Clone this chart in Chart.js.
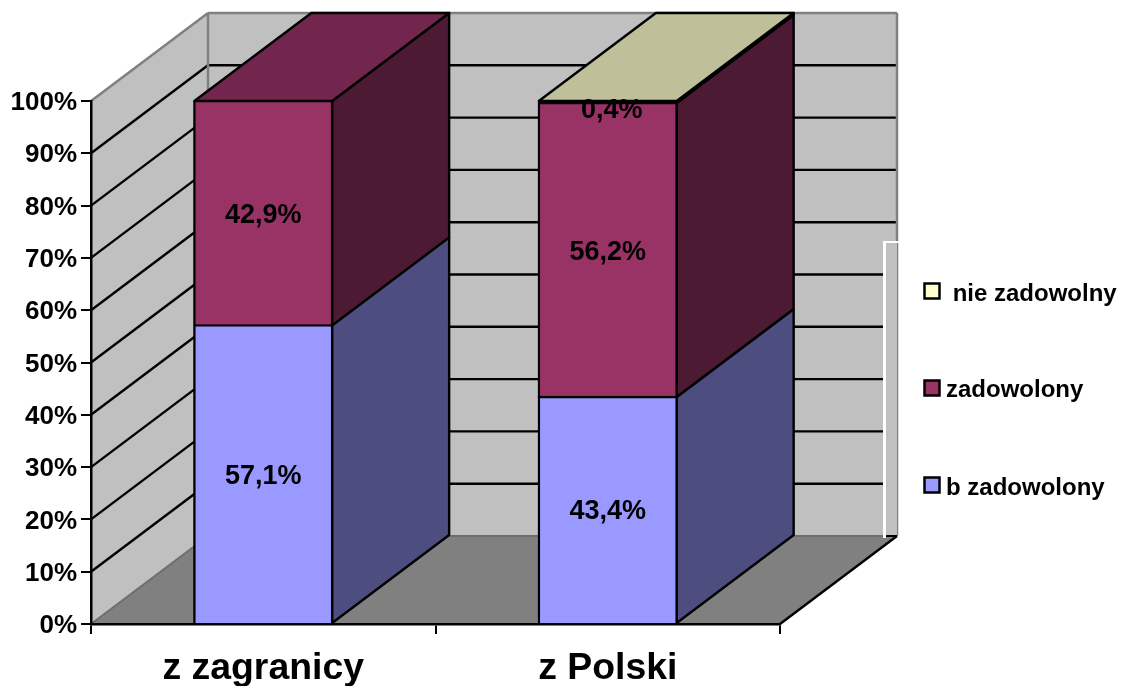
<!DOCTYPE html>
<html>
<head>
<meta charset="utf-8">
<script src="https://cdn.jsdelivr.net/npm/chart.js@4"></script>
<style>
  html, body { margin: 0; background: #fff; }
  #wrap { width: 1125px; height: 686px; }
</style>
</head>
<body>
<div id="wrap"><canvas id="chart" width="1125" height="686"></canvas></div>
<script>
const categories = ['z zagranicy', 'z Polski'];
const seriesNames = ['b zadowolony', 'zadowolony', ' nie zadowolny'];
const bZadowolony = [57.1, 43.4];
const zadowolony = [42.9, 56.2];
const nieZadowolny = [null, 0.4];
const valueLabels = [['57,1%', '43,4%'], ['42,9%', '56,2%'], [null, '0,4%']];

const FONT = '"Liberation Sans", Arial, sans-serif';
// front, top and side shade of each series
const colors = [
  { front: '#9999FF', top: '#7373BF', side: '#4D4D80' },
  { front: '#993366', top: '#73264D', side: '#4D1A33' },
  { front: '#FFFFCC', top: '#BFBF99', side: '#808066' }
];
const DX = 117, DY = 88; // depth of the fake 3d box

function poly(ctx, pts, fill, stroke, lw) {
  ctx.beginPath();
  pts.forEach((p, i) => i ? ctx.lineTo(p[0], p[1]) : ctx.moveTo(p[0], p[1]));
  ctx.closePath();
  if (fill) { ctx.fillStyle = fill; ctx.fill(); }
  if (stroke) { ctx.strokeStyle = stroke; ctx.lineWidth = lw; ctx.stroke(); }
}

function seg(ctx, x1, y1, x2, y2, color, lw) {
  ctx.beginPath();
  ctx.moveTo(x1, y1);
  ctx.lineTo(x2, y2);
  ctx.strokeStyle = color;
  ctx.lineWidth = lw;
  ctx.stroke();
}

const box3d = {
  id: 'box3d',
  // walls, floor and gridlines go under the axes
  beforeDraw(chart) {
    const { ctx, chartArea: a, scales } = chart;
    const y = scales.y;
    ctx.save();
    ctx.lineJoin = 'round';
    poly(ctx, [[a.left, a.top], [a.left + DX, a.top - DY], [a.left + DX, a.bottom - DY], [a.left, a.bottom]], '#C0C0C0', null);
    poly(ctx, [[a.left + DX, a.top - DY], [a.right + DX, a.top - DY], [a.right + DX, a.bottom - DY], [a.left + DX, a.bottom - DY]], '#C0C0C0', null);
    poly(ctx, [[a.left, a.bottom], [a.left + DX, a.bottom - DY], [a.right + DX, a.bottom - DY], [a.right, a.bottom]], '#808080', null);

    y.ticks.forEach(t => {
      const py = y.getPixelForValue(t.value);
      if (t.value === 0 || t.value === 100) return;
      seg(ctx, a.left, py, a.left + DX, py - DY, '#000', 2.4);
      seg(ctx, a.left + DX, py - DY, a.right + DX, py - DY, '#000', 2.4);
    });

    // grey wall edges
    seg(ctx, a.left, a.top, a.left + DX, a.top - DY, '#808080', 2.5);
    seg(ctx, a.left + DX, a.top - DY, a.right + DX, a.top - DY, '#808080', 2.5);
    seg(ctx, a.left + DX, a.top - DY, a.left + DX, a.bottom - DY, '#808080', 2.5);
    seg(ctx, a.right + DX, a.top - DY, a.right + DX, a.bottom - DY, '#808080', 2.5);
    seg(ctx, a.left, a.bottom, a.left + DX, a.bottom - DY, '#6E6E6E', 2);
    seg(ctx, a.left + DX, a.bottom - DY, a.right + DX, a.bottom - DY, '#6E6E6E', 2);
    seg(ctx, a.right, a.bottom, a.right + DX, a.bottom - DY, '#000', 2.4);

    // legend frame sits on top of the wall
    ctx.fillStyle = '#C0C0C0';
    ctx.fillRect(884, 242, a.right + DX - 884, a.bottom - DY - 242);
    ctx.fillStyle = '#fff';
    ctx.fillRect(883, 241, 3, a.bottom - DY - 239);
    ctx.fillRect(883, 241, a.right + DX - 883 + 2, 2);
    seg(ctx, 886, a.bottom - DY, a.right + DX, a.bottom - DY, '#000', 2);
    ctx.restore();
  },
  // side and top faces of the columns
  beforeDatasetsDraw(chart) {
    const { ctx } = chart;
    ctx.save();
    ctx.lineJoin = 'round';
    chart.data.datasets.forEach((ds, i) => {
      chart.getDatasetMeta(i).data.forEach((bar, j) => {
        if (ds.data[j] === null) return;
        const r = bar.x + bar.width / 2, l = bar.x - bar.width / 2;
        poly(ctx, [[r, bar.y], [r + DX, bar.y - DY], [r + DX, bar.base - DY], [r, bar.base]], colors[i].side, '#000', 2.4);
        const isTop = chart.data.datasets.slice(i + 1).every(d => d.data[j] === null);
        if (isTop) poly(ctx, [[l, bar.y], [l + DX, bar.y - DY], [r + DX, bar.y - DY], [r, bar.y]], colors[i].top, '#000', 2.4);
      });
    });
    ctx.restore();
  },
  afterDatasetsDraw(chart) {
    const { ctx } = chart;
    ctx.save();
    ctx.font = 'bold 27px ' + FONT;
    ctx.fillStyle = '#000';
    ctx.textAlign = 'center';
    ctx.textBaseline = 'middle';
    chart.data.datasets.forEach((ds, i) => {
      chart.getDatasetMeta(i).data.forEach((bar, j) => {
        const text = valueLabels[i][j];
        if (!text) return;
        // thin slice: label hangs below the top edge, a bit off centre
        const thin = ds.data[j] < 2;
        const cy = thin ? bar.y + 10 : (bar.y + bar.base) / 2 + 2;
        ctx.fillText(text, bar.x + (thin ? 4 : 0), cy);
      });
    });

    // legend, top entry first
    const boxY = [291, 388, 485];
    const textY = [294, 390, 488];
    ctx.font = 'bold 24px ' + FONT;
    ctx.textAlign = 'left';
    [2, 1, 0].forEach((i, row) => {
      ctx.fillStyle = colors[i].front;
      ctx.strokeStyle = '#000';
      ctx.lineWidth = 2.5;
      ctx.fillRect(924.5, boxY[row] - 7.5, 15, 15);
      ctx.strokeRect(924.5, boxY[row] - 7.5, 15, 15);
      ctx.fillStyle = '#000';
      ctx.fillText(seriesNames[i], 946, textY[row]);
    });
    ctx.restore();
  }
};

new Chart(document.getElementById('chart'), {
  type: 'bar',
  data: {
    labels: categories,
    datasets: [bZadowolony, zadowolony, nieZadowolny].map((values, i) => ({
      label: seriesNames[i],
      data: values,
      backgroundColor: colors[i].front,
      borderColor: '#000',
      borderWidth: 2.4,
      borderSkipped: i === 2 ? false : 'start',
      inflateAmount: i === 2 ? 0 : 1.2, // the 0,4% slice is all border, no fill shows
      categoryPercentage: 1,
      barPercentage: 0.4
    }))
  },
  options: {
    responsive: false,
    animation: false,
    layout: { padding: { top: 101, right: 345, left: 0, bottom: 0 } },
    plugins: { legend: { display: false }, tooltip: { enabled: false } },
    scales: {
      x: {
        stacked: true,
        afterFit: s => { s.height = 62; },
        grid: { drawOnChartArea: false, color: '#000', lineWidth: 2, tickLength: 10 },
        border: { color: '#000', width: 2.5 },
        ticks: { color: '#000', padding: 12, maxRotation: 0, font: { family: FONT, size: 37.4, weight: 'bold' } }
      },
      y: {
        stacked: true,
        min: 0,
        max: 100,
        afterFit: s => { s.width = 91; },
        grid: { drawOnChartArea: false, color: '#000', lineWidth: 2, tickLength: 10 },
        border: { color: '#000', width: 2.5 },
        ticks: { stepSize: 10, color: '#000', padding: 4, labelOffset: 2, font: { family: FONT, size: 26, weight: 'bold' }, callback: v => v + '%' }
      }
    }
  },
  plugins: [box3d]
});
</script>
</body>
</html>
